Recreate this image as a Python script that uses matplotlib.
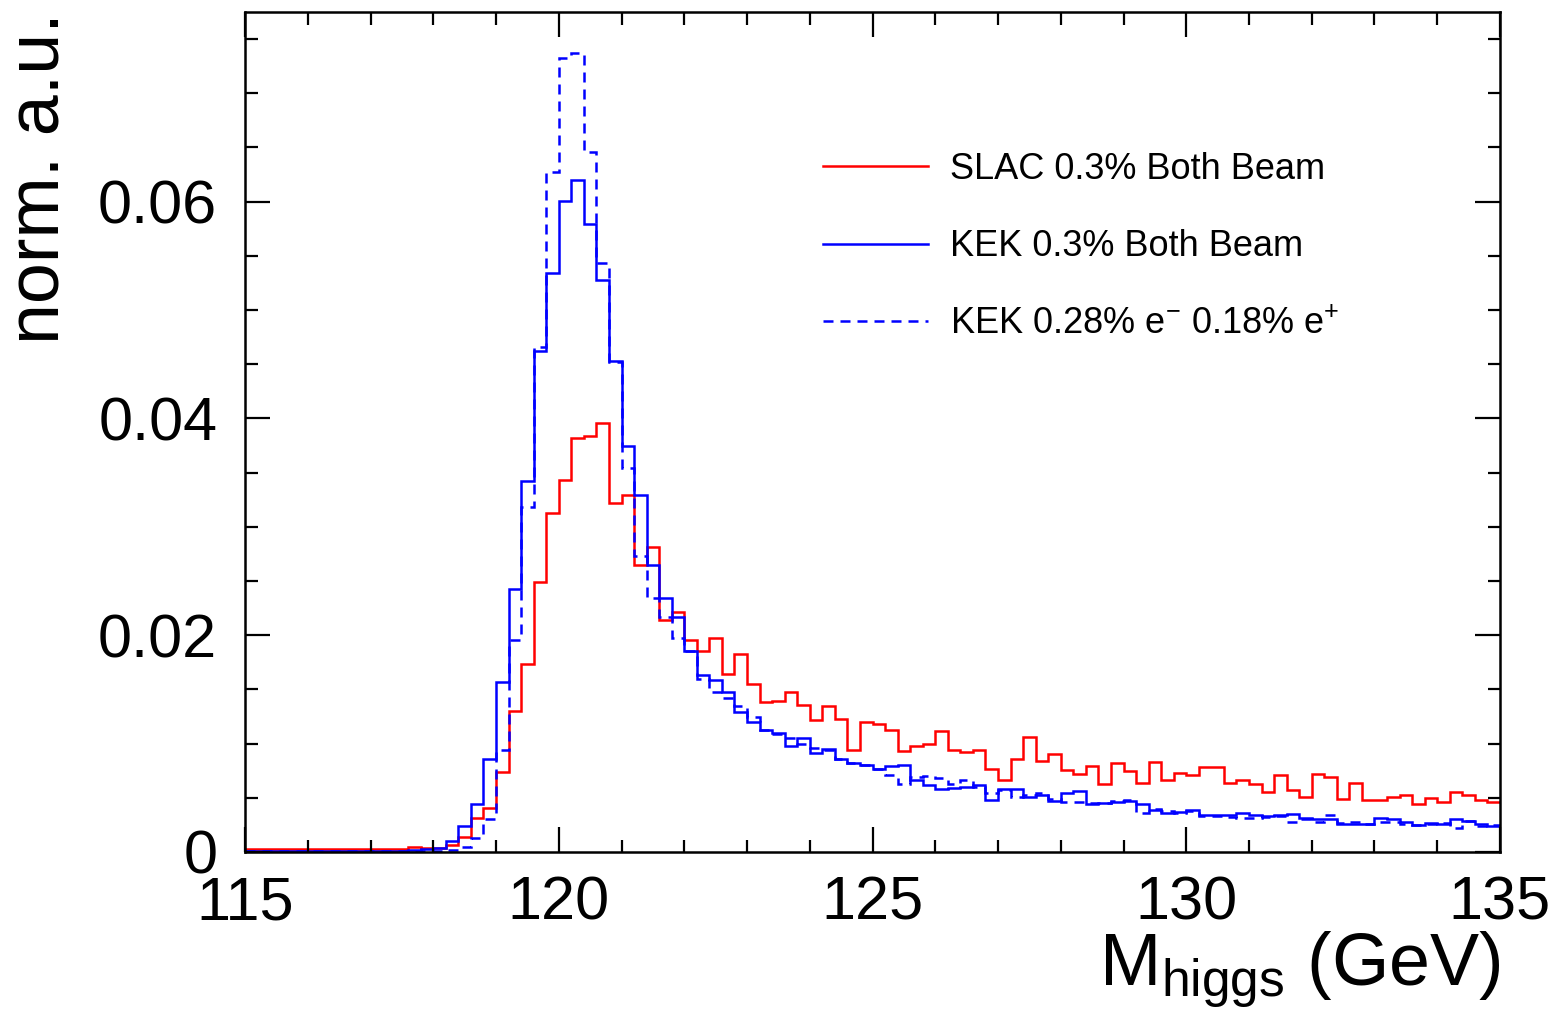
import numpy as np
import matplotlib
matplotlib.use("Agg")
import matplotlib.pyplot as plt
from matplotlib.ticker import MultipleLocator

plt.rcParams['font.family'] = ['Liberation Sans', 'DejaVu Sans']
plt.rcParams['mathtext.fontset'] = 'custom'
plt.rcParams['mathtext.rm'] = 'Liberation Sans'
plt.rcParams['mathtext.it'] = 'Liberation Sans:italic'

# 100 bins of 0.2 GeV from 115 to 135
edges = np.linspace(115.0, 135.0, 101)

slac = [0.0003] * 13 + [
    0.0005, 0.0004, 0.0004, 0.0006, 0.0014, 0.0031, 0.0041, 0.0074, 0.0130, 0.0173,
    0.0249, 0.0313, 0.0343, 0.0382, 0.0384, 0.0396, 0.0322, 0.0329, 0.0265, 0.0281,
    0.0214, 0.0221, 0.0196, 0.0185, 0.0197, 0.0164, 0.0183, 0.0155, 0.0138, 0.0139,
    0.0148, 0.0136, 0.0122, 0.0135, 0.0123, 0.0094, 0.0120, 0.0118, 0.0113, 0.0093,
    0.0098, 0.0100, 0.0112, 0.0094, 0.0092, 0.0094, 0.0077, 0.0066, 0.0086, 0.0106,
    0.0084, 0.0090, 0.0076, 0.0072, 0.0079, 0.0063, 0.0082, 0.0075, 0.0064, 0.0083,
    0.0066, 0.0073, 0.0071, 0.0078, 0.0078, 0.0064, 0.0066, 0.0063, 0.0055, 0.0071,
    0.0057, 0.0051, 0.0072, 0.0069, 0.0049, 0.0064, 0.0048, 0.0048, 0.0051, 0.0053,
    0.0044, 0.0050, 0.0046, 0.0055, 0.0053, 0.0048, 0.0046]

kek = [0.0001] * 13 + [
    0.0002, 0.0003, 0.0004, 0.0010, 0.0024, 0.0044, 0.0086, 0.0157, 0.0243, 0.0342,
    0.0462, 0.0534, 0.0601, 0.0620, 0.0579, 0.0528, 0.0453, 0.0375, 0.0329, 0.0265,
    0.0234, 0.0217, 0.0185, 0.0163, 0.0159, 0.0148, 0.0129, 0.0120, 0.0113, 0.0110,
    0.0098, 0.0105, 0.0091, 0.0095, 0.0086, 0.0082, 0.0080, 0.0077, 0.0079, 0.0080,
    0.0066, 0.0062, 0.0058, 0.0059, 0.0060, 0.0062, 0.0048, 0.0058, 0.0058, 0.0051,
    0.0053, 0.0047, 0.0054, 0.0056, 0.0044, 0.0045, 0.0046, 0.0047, 0.0044, 0.0039,
    0.0036, 0.0037, 0.0039, 0.0034, 0.0034, 0.0034, 0.0036, 0.0034, 0.0033, 0.0034,
    0.0035, 0.0031, 0.0030, 0.0030, 0.0026, 0.0026, 0.0026, 0.0031, 0.0030, 0.0028,
    0.0025, 0.0027, 0.0026, 0.0030, 0.0029, 0.0026, 0.0024]

kek_asym = [0.0001] * 13 + [
    0.0001, 0.0001, 0.0001, 0.0002, 0.0005, 0.0013, 0.0030, 0.0094, 0.0196, 0.0318,
    0.0466, 0.0627, 0.0733, 0.0737, 0.0646, 0.0543, 0.0452, 0.0354, 0.0273, 0.0234,
    0.0217, 0.0197, 0.0185, 0.0160, 0.0148, 0.0142, 0.0135, 0.0125, 0.0113, 0.0109,
    0.0105, 0.0100, 0.0096, 0.0094, 0.0086, 0.0082, 0.0080, 0.0077, 0.0071, 0.0063,
    0.0069, 0.0070, 0.0068, 0.0063, 0.0066, 0.0060, 0.0054, 0.0057, 0.0051, 0.0053,
    0.0054, 0.0049, 0.0046, 0.0046, 0.0045, 0.0045, 0.0047, 0.0048, 0.0036, 0.0040,
    0.0038, 0.0036, 0.0038, 0.0033, 0.0033, 0.0032, 0.0031, 0.0031, 0.0032, 0.0033,
    0.0028, 0.0030, 0.0028, 0.0034, 0.0027, 0.0028, 0.0026, 0.0028, 0.0028, 0.0026,
    0.0025, 0.0026, 0.0027, 0.0022, 0.0029, 0.0024, 0.0025]

labels = ['SLAC 0.3% Both Beam',
          'KEK 0.3% Both Beam',
          'KEK 0.28% e$^{-}$ 0.18% e$^{+}$']

fig = plt.figure(figsize=(15.67, 10.22), dpi=100)
ax = fig.add_axes([245/1567, 1-852/1022, 1255/1567, 840/1022])

lw = 1.8
ax.stairs(slac, edges, baseline=None, color='#ff0000', lw=lw, label=labels[0])
ax.stairs(kek, edges, baseline=None, color='#0000ff', lw=lw, label=labels[1])
ax.stairs(kek_asym, edges, baseline=None, color='#0000ff', lw=lw,
          linestyle=(0, (4.0, 2.8)), label=labels[2])

ax.set_xlim(115, 135)
ax.set_ylim(0, 0.0775)
ax.xaxis.set_major_locator(MultipleLocator(5))
ax.xaxis.set_minor_locator(MultipleLocator(1))
ax.yaxis.set_major_locator(MultipleLocator(0.02))
ax.yaxis.set_minor_locator(MultipleLocator(0.005))
ax.yaxis.set_major_formatter(matplotlib.ticker.FuncFormatter(
    lambda v, p: '0' if abs(v) < 1e-9 else '%.2f' % v))

ax.tick_params(which='both', direction='in', top=True, right=True, width=1.6)
ax.tick_params(which='major', length=18, labelsize=44)
ax.tick_params(which='minor', length=9)
ax.tick_params(axis='x', which='major', pad=17)
ax.tick_params(axis='y', which='major', pad=20)
for s in ax.spines.values():
    s.set_linewidth(1.8)

ax.set_xlabel('M$_{\\mathrm{higgs}}$ (GeV)', fontsize=53, loc='right')
ax.xaxis.set_label_coords(1.0, -0.093)
ax.set_ylabel('norm. a.u.', fontsize=53, loc='top')
ax.yaxis.set_label_coords(-0.136, 1.0)

ax.legend(loc='upper left', bbox_to_anchor=(823/1567, 1-152/1022),
          bbox_transform=fig.transFigure, frameon=False, fontsize=26,
          handlelength=2.9, handletextpad=0.62, labelspacing=1.17,
          borderpad=0, borderaxespad=0)

fig.savefig('out.png', dpi=100)
